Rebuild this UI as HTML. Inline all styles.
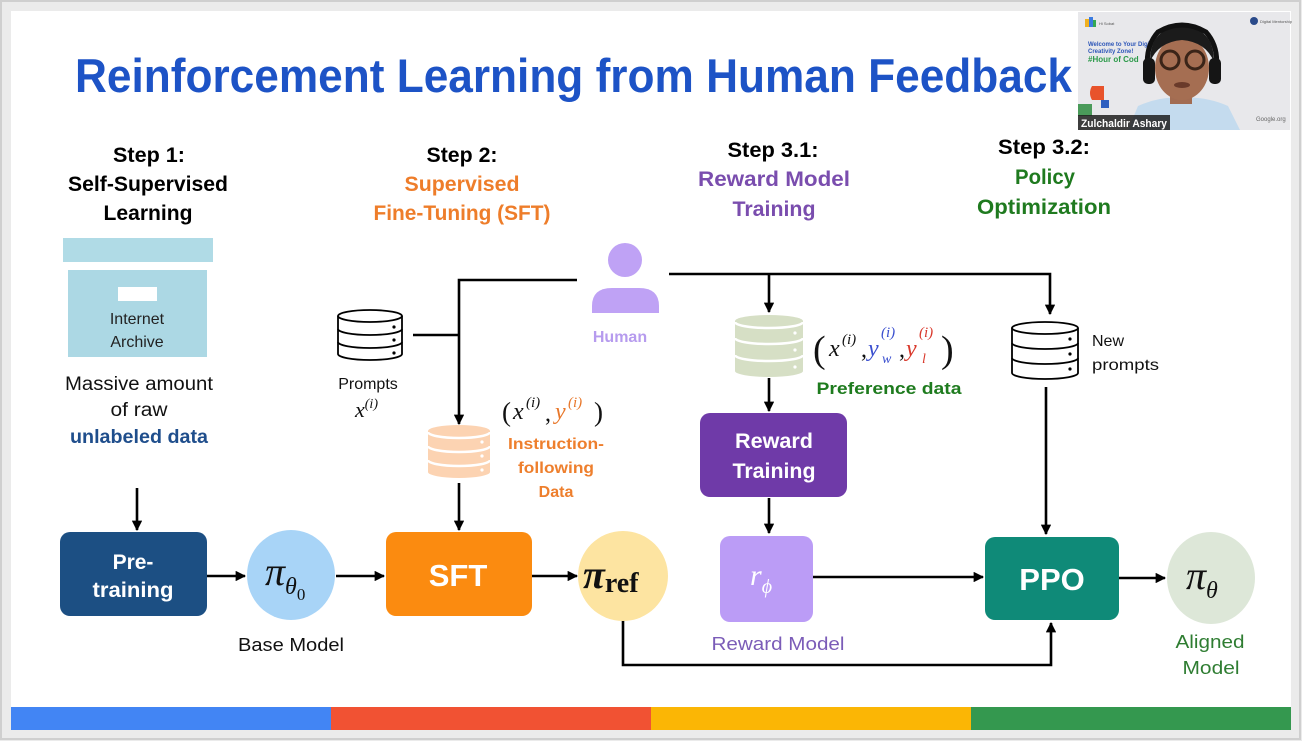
<!DOCTYPE html>
<html><head><meta charset="utf-8"><style>
html,body{margin:0;padding:0;background:#ebebeb;}
svg{display:block;}
</style></head><body>
<svg width="1302" height="741" viewBox="0 0 1302 741" xmlns="http://www.w3.org/2000/svg" font-family="'Liberation Sans', sans-serif">
<defs>
<marker id="ah" viewBox="0 0 10 10" refX="9" refY="5" markerWidth="4" markerHeight="4" orient="auto" markerUnits="strokeWidth">
<path d="M0,0 L10,5 L0,10 z" fill="#000"/>
</marker>
</defs>
<rect x="0" y="0" width="1302" height="741" fill="#ebebeb"/>
<rect x="1" y="1" width="1299" height="738" fill="none" stroke="#cfcfcf" stroke-width="2"/>
<rect x="11" y="11" width="1280" height="696" fill="#ffffff"/>
<!-- bottom bar -->
<rect x="11" y="707" width="320" height="23" fill="#4285f4"/>
<rect x="331" y="707" width="320" height="23" fill="#f15233"/>
<rect x="651" y="707" width="320" height="23" fill="#fbb605"/>
<rect x="971" y="707" width="320" height="23" fill="#34984f"/>

<!-- Title -->
<text x="75" y="92" font-size="47" font-weight="bold" fill="#1d53c6" textLength="997" lengthAdjust="spacingAndGlyphs">Reinforcement Learning from Human Feedback</text>

<!-- webcam -->
<rect x="1078" y="12" width="212" height="118" fill="#e8e8eb"/>
<rect x="1085" y="19" width="4" height="8" fill="#f0b020"/><rect x="1089" y="17" width="4" height="10" fill="#3b7be0"/><rect x="1093" y="20" width="3" height="7" fill="#34a853"/>
<text x="1099" y="25" font-size="4" fill="#555">Hi Sobat</text>
<circle cx="1254" cy="21" r="4" fill="#2a4a8a"/><text x="1260" y="23" font-size="4" fill="#555">Digital Mentorship</text>
<text x="1088" y="46" font-size="6" font-weight="bold" fill="#2d56b8">Welcome to Your Digi</text>
<text x="1088" y="53" font-size="6" font-weight="bold" fill="#2d56b8">Creativity Zone!</text>
<text x="1088" y="62" font-size="8" font-weight="bold" fill="#2c9a4a">#Hour of Cod</text>
<path d="M1092,86 h12 v14 h-12 q-4,-7 0,-14z" fill="#e8532b"/>
<path d="M1078,104 h14 v12 h-14z" fill="#4a9a5a"/>
<path d="M1101,100 h8 v8 h-8z" fill="#2f5fc0"/>
<path d="M1128,130 L1138,106 Q1160,96 1182,98 Q1205,96 1228,106 L1240,130 Z" fill="#c4dbee"/>
<rect x="1170" y="90" width="22" height="14" fill="#a26c52"/>
<ellipse cx="1182" cy="68" rx="27" ry="32" fill="#a56e52"/>
<path d="M1150,62 Q1150,28 1182,26 Q1214,28 1214,62 Q1206,42 1182,40 Q1158,42 1150,62z" fill="#1b1b1b"/>
<path d="M1150,80 Q1142,50 1158,32 Q1182,18 1206,32 Q1222,50 1214,80" fill="none" stroke="#111" stroke-width="5"/>
<rect x="1143" y="58" width="12" height="26" rx="5" fill="#151515"/>
<rect x="1209" y="58" width="12" height="26" rx="5" fill="#151515"/>
<circle cx="1170" cy="60" r="9" fill="none" stroke="#3a2418" stroke-width="3"/>
<circle cx="1195" cy="60" r="9" fill="none" stroke="#3a2418" stroke-width="3"/>
<ellipse cx="1182" cy="85" rx="8" ry="3" fill="#6a3a2a"/>
<text x="1256" y="121" font-size="6" fill="#666">Google.org</text>
<rect x="1078" y="115" width="92" height="15" fill="#1e1e1e" opacity="0.85"/>
<text x="1081" y="127" font-size="11" font-weight="bold" fill="#fff" textLength="86" lengthAdjust="spacingAndGlyphs">Zulchaldir Ashary</text>

<!-- Step headings -->
<g font-weight="bold" font-size="21" text-anchor="middle">
<text x="149" y="162" fill="#000" textLength="72" lengthAdjust="spacingAndGlyphs">Step 1:</text>
<text x="148" y="191" fill="#000" textLength="160" lengthAdjust="spacingAndGlyphs">Self-Supervised</text>
<text x="148" y="220" fill="#000" textLength="89" lengthAdjust="spacingAndGlyphs">Learning</text>
<text x="462" y="162" fill="#000" textLength="71" lengthAdjust="spacingAndGlyphs">Step 2:</text>
<text x="462" y="191" fill="#ee7d2a" textLength="115" lengthAdjust="spacingAndGlyphs">Supervised</text>
<text x="462" y="220" fill="#ee7d2a" textLength="177" lengthAdjust="spacingAndGlyphs">Fine-Tuning (SFT)</text>
<text x="773" y="157" fill="#000" textLength="91" lengthAdjust="spacingAndGlyphs">Step 3.1:</text>
<text x="774" y="186" fill="#7a4dae" textLength="152" lengthAdjust="spacingAndGlyphs">Reward Model</text>
<text x="774" y="216" fill="#7a4dae" textLength="83" lengthAdjust="spacingAndGlyphs">Training</text>
<text x="1044" y="154" fill="#000" textLength="92" lengthAdjust="spacingAndGlyphs">Step 3.2:</text>
<text x="1045" y="184" fill="#1f7a1f" textLength="60" lengthAdjust="spacingAndGlyphs">Policy</text>
<text x="1044" y="214" fill="#1f7a1f" textLength="134" lengthAdjust="spacingAndGlyphs">Optimization</text>
</g>

<!-- Internet archive -->
<rect x="63" y="238" width="150" height="24" fill="#b0dbe6"/>
<rect x="68" y="270" width="139" height="87" fill="#acd8e4"/>
<rect x="118" y="287" width="39" height="14" fill="#ffffff"/>
<g font-size="16" text-anchor="middle" fill="#222">
<text x="137" y="324">Internet</text>
<text x="137" y="347">Archive</text>
</g>
<g font-size="19" text-anchor="middle" fill="#111">
<text x="139" y="390" textLength="148" lengthAdjust="spacingAndGlyphs">Massive amount</text>
<text x="139" y="416" textLength="57" lengthAdjust="spacingAndGlyphs">of raw</text>
<text x="139" y="443" font-weight="bold" fill="#1f4e8c" textLength="138" lengthAdjust="spacingAndGlyphs">unlabeled data</text>
</g>

<!-- connectors -->
<g stroke="#000" stroke-width="2.6" fill="none">
<line x1="137" y1="488" x2="137" y2="530" marker-end="url(#ah)"/>
<line x1="207" y1="576" x2="245" y2="576" marker-end="url(#ah)"/>
<line x1="336" y1="576" x2="384" y2="576" marker-end="url(#ah)"/>
<line x1="532" y1="576" x2="577" y2="576" marker-end="url(#ah)"/>
<path d="M623,620 V665 H1051 V623" marker-end="url(#ah)"/>
<line x1="813" y1="577" x2="983" y2="577" marker-end="url(#ah)"/>
<line x1="1119" y1="578" x2="1165" y2="578" marker-end="url(#ah)"/>
<path d="M577,280 H459 V424" marker-end="url(#ah)"/>
<line x1="413" y1="335" x2="459" y2="335"/>
<line x1="459" y1="483" x2="459" y2="530" marker-end="url(#ah)"/>
<path d="M669,274 H1050 V314" marker-end="url(#ah)"/>
<line x1="769" y1="274" x2="769" y2="312" marker-end="url(#ah)"/>
<line x1="769" y1="378" x2="769" y2="411" marker-end="url(#ah)"/>
<line x1="769" y1="498" x2="769" y2="533" marker-end="url(#ah)"/>
<line x1="1046" y1="387" x2="1046" y2="534" marker-end="url(#ah)"/>
</g>

<!-- Pre-training -->
<rect x="60" y="532" width="147" height="84" rx="10" fill="#1c4f83"/>
<g font-size="21" font-weight="bold" fill="#fff" text-anchor="middle">
<text x="133" y="569">Pre-</text>
<text x="133" y="597" textLength="81" lengthAdjust="spacingAndGlyphs">training</text>
</g>
<!-- base model circle -->
<ellipse cx="291" cy="575" rx="44" ry="45" fill="#a8d4f7"/>
<text x="265" y="585" font-family="'Liberation Serif', serif" font-style="italic" font-size="40" fill="#111">π<tspan font-size="24" dy="9">θ</tspan><tspan font-size="17" font-style="normal" dy="6">0</tspan></text>
<text x="291" y="651" font-size="18" text-anchor="middle" fill="#111" textLength="106" lengthAdjust="spacingAndGlyphs">Base Model</text>

<!-- SFT -->
<rect x="386" y="532" width="146" height="84" rx="10" fill="#fb8b10"/>
<text x="458" y="586" font-size="31" font-weight="bold" fill="#fff" text-anchor="middle">SFT</text>

<!-- pi ref -->
<ellipse cx="623" cy="576" rx="45" ry="45" fill="#fde4a1"/>
<text x="583" y="588" font-family="'Liberation Serif', serif" font-weight="bold" font-style="italic" font-size="40" fill="#111">π<tspan font-style="normal" font-size="28" dy="4">ref</tspan></text>

<!-- Human -->
<circle cx="625" cy="260" r="17" fill="#bfa2f5"/>
<path d="M592,313 V306 Q592,288 612,288 H639 Q659,288 659,306 V313 Z" fill="#bfa2f5"/>
<text x="620" y="342" font-size="16" font-weight="bold" fill="#b69bee" text-anchor="middle">Human</text>

<!-- Prompts cylinder -->
<g fill="#fff" stroke="#000" stroke-width="1.8">
<path d="M338,316 A32,6 0 0 1 402,316 V354 A32,6 0 0 1 338,354 Z"/>
<path d="M338,316 A32,6 0 0 0 402,316" fill="none"/>
<path d="M338,329 A32,6 0 0 0 402,329" fill="none"/>
<path d="M338,342 A32,6 0 0 0 402,342" fill="none"/>
</g>
<g fill="#000"><circle cx="394" cy="327" r="1.6"/><circle cx="394" cy="340" r="1.6"/><circle cx="394" cy="353" r="1.6"/></g>
<text x="368" y="389" font-size="16" text-anchor="middle" fill="#111">Prompts</text>
<text x="355" y="417" font-family="'Liberation Serif', serif" font-style="italic" font-size="22" fill="#111">x<tspan font-size="14" dy="-9">(i)</tspan></text>

<!-- peach cylinder -->
<path d="M428,431 A31,6 0 0 1 490,431 V472 A31,6 0 0 1 428,472 Z" fill="#fcd3b2"/>
<g fill="none" stroke="#fff" stroke-width="2.5">
<path d="M428,432 A31,6 0 0 0 490,432"/>
<path d="M428,446 A31,6 0 0 0 490,446"/>
<path d="M428,460 A31,6 0 0 0 490,460"/>
</g>
<g fill="#fff"><circle cx="482" cy="442" r="1.6"/><circle cx="482" cy="456" r="1.6"/><circle cx="482" cy="470" r="1.6"/></g>
<g font-family="'Liberation Serif', serif" fill="#111">
<text x="502" y="421" font-size="27">(</text>
<text x="513" y="419" font-size="24" font-style="italic">x</text>
<text x="526" y="407" font-size="15" font-style="italic">(i)</text>
<text x="545" y="421" font-size="24">,</text>
<text x="555" y="419" font-size="24" font-style="italic" fill="#e8772a">y</text>
<text x="568" y="407" font-size="15" font-style="italic" fill="#e8772a">(i)</text>
<text x="594" y="421" font-size="27">)</text>
</g>
<g font-size="16" font-weight="bold" fill="#ee7f2d" text-anchor="middle">
<text x="556" y="449" textLength="96" lengthAdjust="spacingAndGlyphs">Instruction-</text>
<text x="556" y="473" textLength="76" lengthAdjust="spacingAndGlyphs">following</text>
<text x="556" y="497">Data</text>
</g>

<!-- preference cylinder -->
<path d="M735,321 A34,6 0 0 1 803,321 V371 A34,6 0 0 1 735,371 Z" fill="#d6dfc5"/>
<g fill="none" stroke="#fff" stroke-width="2.5">
<path d="M735,322 A34,6 0 0 0 803,322"/>
<path d="M735,338 A34,6 0 0 0 803,338"/>
<path d="M735,355 A34,6 0 0 0 803,355"/>
</g>
<g fill="#fff"><circle cx="795" cy="333" r="1.6"/><circle cx="795" cy="350" r="1.6"/><circle cx="795" cy="367" r="1.6"/></g>
<g font-family="'Liberation Serif', serif" fill="#111">
<text x="813" y="362" font-size="38">(</text>
<text x="829" y="356" font-size="24" font-style="italic">x</text>
<text x="842" y="344" font-size="15" font-style="italic">(i)</text>
<text x="861" y="357" font-size="24">,</text>
<text x="868" y="356" font-size="24" font-style="italic" fill="#3a4fcf">y</text>
<text x="881" y="337" font-size="15" font-style="italic" fill="#3a4fcf">(i)</text>
<text x="882" y="363" font-size="14" font-style="italic" fill="#3a4fcf">w</text>
<text x="899" y="357" font-size="24">,</text>
<text x="906" y="356" font-size="24" font-style="italic" fill="#d9382b">y</text>
<text x="919" y="337" font-size="15" font-style="italic" fill="#d9382b">(i)</text>
<text x="922" y="363" font-size="14" font-style="italic" fill="#d9382b">l</text>
<text x="941" y="362" font-size="38">)</text>
</g>
<text x="889" y="394" font-size="17" font-weight="bold" fill="#1e7b1e" text-anchor="middle" textLength="145" lengthAdjust="spacingAndGlyphs">Preference data</text>

<!-- Reward training -->
<rect x="700" y="413" width="147" height="84" rx="10" fill="#6f3aa8"/>
<g font-size="21" font-weight="bold" fill="#fff" text-anchor="middle">
<text x="774" y="448" textLength="78" lengthAdjust="spacingAndGlyphs">Reward</text>
<text x="774" y="478" textLength="83" lengthAdjust="spacingAndGlyphs">Training</text>
</g>

<!-- Reward model -->
<rect x="720" y="536" width="93" height="86" rx="10" fill="#bb9cf6"/>
<text x="750" y="585" font-family="'Liberation Serif', serif" font-style="italic" font-size="30" fill="#fff">r<tspan font-size="20" dy="8">ϕ</tspan></text>
<text x="778" y="650" font-size="18" fill="#7b5cb8" text-anchor="middle" textLength="133" lengthAdjust="spacingAndGlyphs">Reward Model</text>

<!-- New prompts cylinder -->
<g fill="#fff" stroke="#000" stroke-width="1.8">
<path d="M1012,328 A33,6 0 0 1 1078,328 V373 A33,6 0 0 1 1012,373 Z"/>
<path d="M1012,328 A33,6 0 0 0 1078,328" fill="none"/>
<path d="M1012,343 A33,6 0 0 0 1078,343" fill="none"/>
<path d="M1012,358 A33,6 0 0 0 1078,358" fill="none"/>
</g>
<g fill="#000"><circle cx="1070" cy="339" r="1.6"/><circle cx="1070" cy="354" r="1.6"/><circle cx="1070" cy="369" r="1.6"/></g>
<g font-size="16" fill="#111">
<text x="1092" y="346">New</text>
<text x="1092" y="370" textLength="67" lengthAdjust="spacingAndGlyphs">prompts</text>
</g>

<!-- PPO -->
<rect x="985" y="537" width="134" height="83" rx="10" fill="#0f8a78"/>
<text x="1052" y="590" font-size="31" font-weight="bold" fill="#fff" text-anchor="middle">PPO</text>

<!-- pi theta -->
<ellipse cx="1211" cy="578" rx="44" ry="46" fill="#dde7d8"/>
<text x="1186" y="589" font-family="'Liberation Serif', serif" font-style="italic" font-size="40" fill="#111">π<tspan font-size="24" dy="9">θ</tspan></text>
<g font-size="18" fill="#2f7d32" text-anchor="middle">
<text x="1210" y="648" textLength="69" lengthAdjust="spacingAndGlyphs">Aligned</text>
<text x="1211" y="674" textLength="57" lengthAdjust="spacingAndGlyphs">Model</text>
</g>
</svg>
</body></html>
